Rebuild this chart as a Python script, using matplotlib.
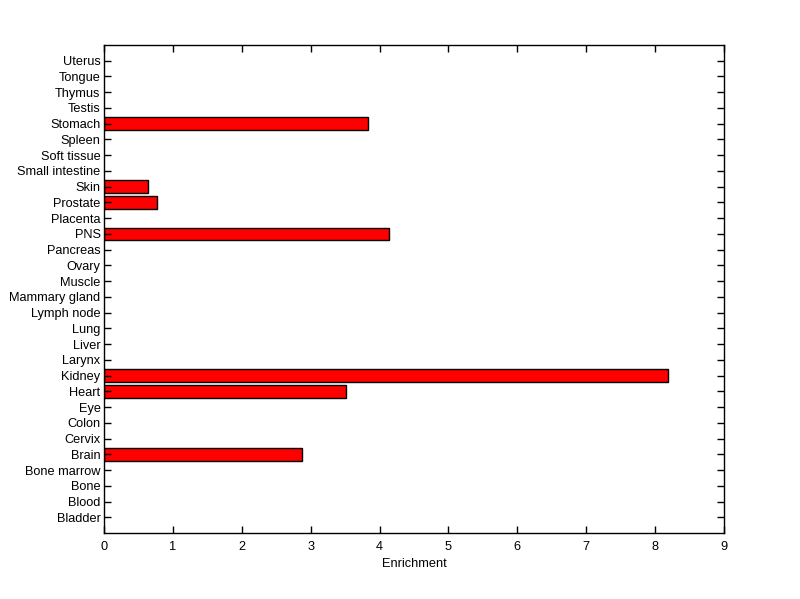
import matplotlib
matplotlib.use("Agg")
import matplotlib.pyplot as plt
import numpy as np

tissues = ["Bladder", "Blood", "Bone", "Bone marrow", "Brain", "Cervix", "Colon", "Eye",
           "Heart", "Kidney", "Larynx", "Liver", "Lung", "Lymph node", "Mammary gland",
           "Muscle", "Ovary", "Pancreas", "PNS", "Placenta", "Prostate", "Skin",
           "Small intestine", "Soft tissue", "Spleen", "Stomach", "Testis", "Thymus",
           "Tongue", "Uterus"]
enrichment = [0, 0, 0, 0, 2.87, 0, 0, 0,
              3.51, 8.19, 0, 0, 0, 0, 0,
              0, 0, 0, 4.14, 0, 0.775, 0.635,
              0, 0, 0, 3.83, 0, 0, 0, 0]
xticks = [0, 1, 2, 3, 4, 5, 6, 7, 8, 9]

plt.rcParams['font.family'] = ['Liberation Sans', 'DejaVu Sans']
fig = plt.figure(figsize=(8, 5.99), dpi=100)
ax = fig.add_axes([0.13, 0.11, 0.775, 0.815])
y = np.arange(1, len(tissues) + 1)
vals = np.array(enrichment)
mask = vals > 0
ax.barh(y[mask], vals[mask], height=0.8, color='#ff0000', edgecolor='black', linewidth=1.0)
ax.set_xlim(0, 9)
ax.set_ylim(0, len(tissues) + 1)
ax.set_yticks(y)
ax.set_yticklabels(tissues, fontsize=9.2)
ax.set_xticks(xticks)
ax.set_xticklabels([str(t) for t in xticks], fontsize=9.2)
ax.set_xlabel("Enrichment", fontsize=9.2, labelpad=3)
ax.tick_params(direction='in', length=5, width=1, top=True, right=True)
ax.tick_params(axis='x', pad=6)
ax.tick_params(axis='y', pad=2.5)
for s in ax.spines.values():
    s.set_linewidth(1)
fig.savefig("out.png", dpi=100)
